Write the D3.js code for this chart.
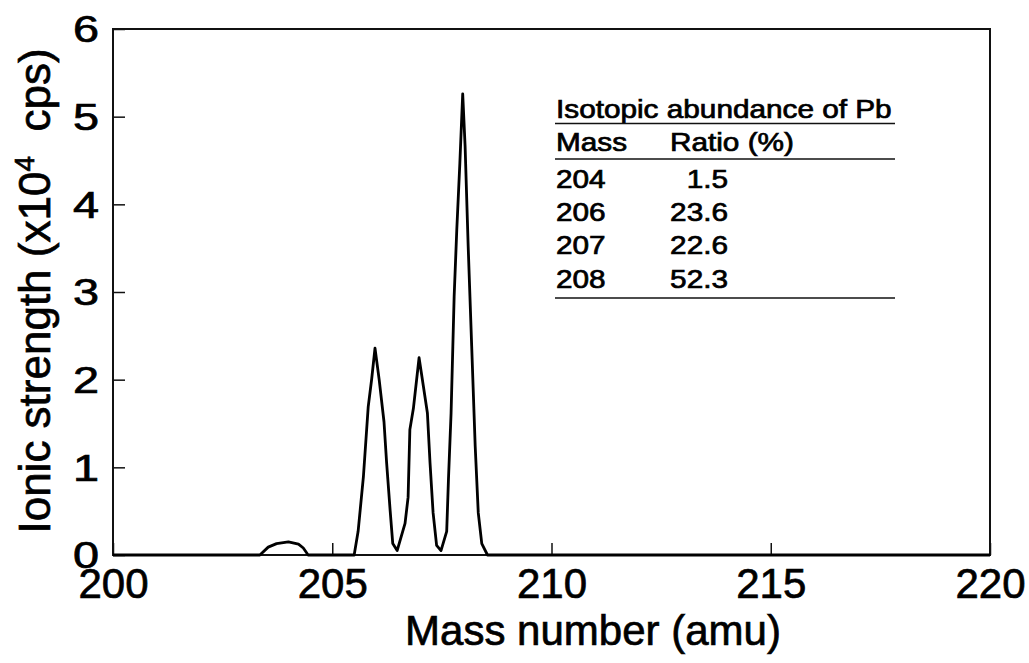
<!DOCTYPE html>
<html>
<head>
<meta charset="utf-8">
<script src="https://cdn.jsdelivr.net/npm/d3@7"></script>
<style>
  html, body { margin: 0; padding: 0; background: #fff; }
  svg { display: block; font-family: "Liberation Sans", Arial, Helvetica, sans-serif; }
  text { stroke: #000; stroke-width: 0.7px; }
</style>
</head>
<body>
<svg id="chart" width="1029" height="663"></svg>
<script>
// ---- data ----
const massNumber = [200, 203.35, 203.54, 203.73, 204.0, 204.23, 204.34, 204.45,
  205.5, 205.59, 205.71, 205.82, 205.90, 205.975, 206.07, 206.18, 206.24, 206.32, 206.38, 206.48,
  206.66, 206.73, 206.77, 206.85, 206.98, 207.08, 207.17, 207.23, 207.30, 207.38, 207.48,
  207.61, 207.65, 207.71, 207.75, 207.78, 207.84, 207.91, 207.975, 208.03, 208.10, 208.18, 208.26,
  208.33, 208.41, 208.54, 220];
const ionicStrength = [0, 0, 0.09, 0.13, 0.15, 0.125, 0.08, 0.0,
  0, 0.27, 0.89, 1.69, 2.01, 2.36, 2.0, 1.52, 1.05, 0.51, 0.13, 0.05,
  0.36, 0.66, 1.43, 1.67, 2.25, 1.92, 1.62, 1.05, 0.48, 0.11, 0.05,
  0.27, 0.86, 1.62, 2.38, 2.95, 3.71, 4.47, 5.26, 4.66, 3.52, 2.38, 1.24,
  0.48, 0.13, 0, 0];
const xTicks = [200, 205, 210, 215, 220];
const yTicks = [0, 1, 2, 3, 4, 5, 6];
const tableTitle = "Isotopic abundance of Pb";
const tableHeaders = ["Mass", "Ratio (%)"];
const tableMass = ["204", "206", "207", "208"];
const tableRatio = ["1.5", "23.6", "22.6", "52.3"];

// ---- layout ----
const svg = d3.select("#chart");
const L = 113, R = 990, T = 29, B = 555;
const x = d3.scaleLinear().domain([200, 220]).range([L, R]);
const y = d3.scaleLinear().domain([0, 6]).range([B, T]);

// frame
svg.append("rect").attr("x", L).attr("y", T).attr("width", R - L).attr("height", B - T)
  .attr("fill", "none").attr("stroke", "#111").attr("stroke-width", 2);

// axes
const xAxis = d3.axisBottom(x).tickValues(xTicks).tickFormat(d3.format("d"))
  .tickSizeInner(-12).tickSizeOuter(0).tickPadding(13);
const gx = svg.append("g").attr("transform", `translate(0,${B})`).call(xAxis);
gx.select(".domain").remove();
gx.selectAll("line").attr("stroke", "#111").attr("stroke-width", 1.5);
gx.selectAll("text").attr("font-size", 42).attr("fill", "#000")
  .attr("font-family", "'Liberation Sans', Arial, sans-serif");

const yAxis = d3.axisLeft(y).tickValues(yTicks).tickFormat(d3.format("d"))
  .tickSizeInner(-12).tickSizeOuter(0).tickPadding(14);
const gy = svg.append("g").attr("transform", `translate(${L},0)`).call(yAxis);
gy.select(".domain").remove();
gy.selectAll("line").attr("stroke", "#111").attr("stroke-width", 1.5);
gy.selectAll("text").attr("font-size", 36).attr("fill", "#000")
  .attr("font-family", "'Liberation Sans', Arial, sans-serif")
  .attr("x", 0).attr("dy", "0.36em")
  .attr("transform", "translate(-14,0) scale(1.3,1)");

// data line
const line = d3.line().x((d, i) => x(massNumber[i])).y(d => y(d));
svg.append("path").datum(ionicStrength)
  .attr("d", line).attr("fill", "none").attr("stroke", "#000")
  .attr("stroke-width", 2.8).attr("stroke-linejoin", "round");

// axis titles
svg.append("text").attr("x", 593).attr("y", 645).attr("text-anchor", "middle")
  .attr("font-size", 42).attr("fill", "#000").text("Mass number (amu)");

const yt = svg.append("text").attr("transform", "translate(50,291) rotate(-90)")
  .attr("text-anchor", "middle").attr("font-size", 44).attr("fill", "#000");
yt.append("tspan").text("Ionic strength (x10");
yt.append("tspan").attr("font-size", 28).attr("dy", -16).text("4");
yt.append("tspan").attr("dy", 16).text("\u00a0\u00a0cps)");

// table (text horizontally widened like the reference's typeface)
const sx = 1.19;
const tbl = svg.append("g").attr("transform", `translate(556,0) scale(${sx},1)`)
  .attr("font-size", 25).attr("fill", "#000");
const px = v => (v - 556) / sx;
tbl.append("text").attr("x", 0).attr("y", 118).text(tableTitle);
tbl.append("text").attr("x", 0).attr("y", 151.5).text(tableHeaders[0]);
tbl.append("text").attr("x", px(670)).attr("y", 151.5).text(tableHeaders[1]);
const rowY = [188, 221, 254.5, 288];
tbl.selectAll("text.m").data(tableMass).join("text").attr("class", "m")
  .attr("x", 0).attr("y", (d, i) => rowY[i]).text(d => d);
tbl.selectAll("text.r").data(tableRatio).join("text").attr("class", "r")
  .attr("x", px(728)).attr("y", (d, i) => rowY[i]).attr("text-anchor", "end").text(d => d);
[123.5, 159, 298].forEach(yy => {
  svg.append("line").attr("x1", 555).attr("x2", 895).attr("y1", yy).attr("y2", yy)
    .attr("stroke", "#111").attr("stroke-width", 1.6);
});
</script>
</body>
</html>
